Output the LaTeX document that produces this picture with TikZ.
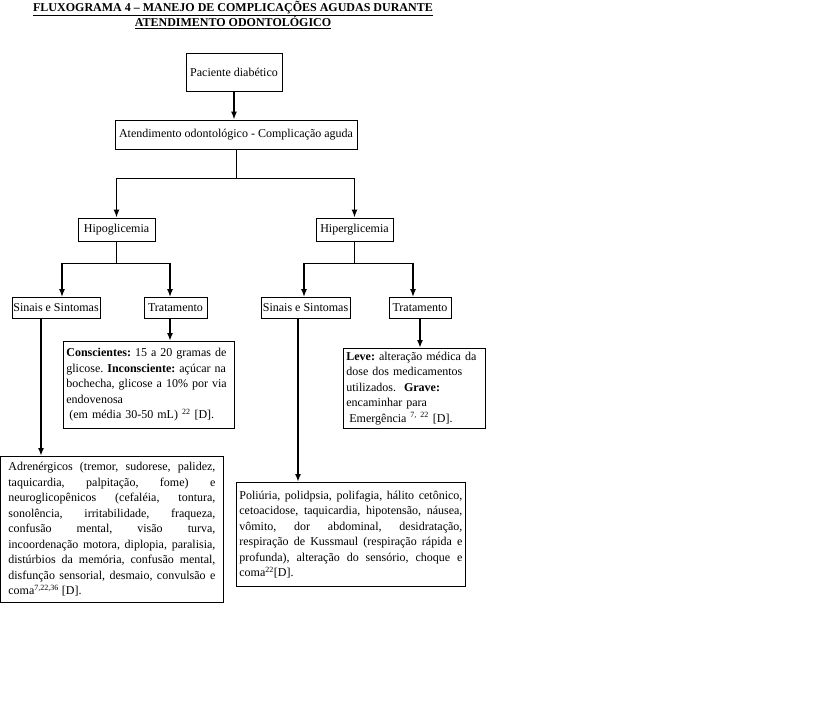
\documentclass[tikz,border=0pt]{standalone}
\usepackage{fontspec}
\setmainfont{Liberation Serif}
\usetikzlibrary{positioning,arrows.meta}
\frenchspacing

\begin{document}
\begin{tikzpicture}[x=1pt,y=-1pt,>={Latex[length=8pt,width=6pt]},
 box/.style={draw,line width=0.8pt,inner sep=1pt,align=center,font=\fontsize{12}{14}\selectfont},
 txt/.style={draw,line width=0.8pt,anchor=north west,inner xsep=3pt,inner ysep=2pt,align=left,font=\fontsize{12}{15.5}\selectfont},
 jtxt/.style={txt,align=justify},
 arr/.style={->,line width=1.8pt},
 stem/.style={line width=0.8pt}]
\useasboundingbox (0,0) rectangle (819,714);
\node[font=\bfseries\fontsize{12}{15}\selectfont,align=center] (title) at (233,15)
 {\underline{FLUXOGRAMA 4 – MANEJO DE COMPLICAÇÕES AGUDAS DURANTE}\\\underline{ATENDIMENTO ODONTOLÓGICO}};
\node[box,minimum width=96pt,minimum height=38pt] (pac) at (234,72) {Paciente diabético};
\node[box,minimum width=242pt,minimum height=29pt] (atend) at (236,134.5) {Atendimento odontológico - Complicação aguda};
\node[box,minimum width=77pt,minimum height=23pt] (hipo) at (116.5,229.5) {Hipoglicemia};
\node[box,minimum width=77pt,minimum height=23pt] (hiper) at (354.5,229.5) {Hiperglicemia};
\node[box,minimum width=88pt,minimum height=21pt] (sinL) at (56,308) {Sinais e Sintomas};
\node[box,minimum width=63pt,minimum height=21pt] (tratL) at (175.5,308) {Tratamento};
\node[box,minimum width=89pt,minimum height=21pt] (sinR) at (305.5,308) {Sinais e Sintomas};
\node[box,minimum width=62pt,minimum height=21pt] (tratR) at (420,308) {Tratamento};
\node[txt,text width=165pt,minimum height=87pt] (condL) at (63,341)
 {\textbf{Conscientes:} 15 a 20 gramas de\\ glicose. \textbf{Inconsciente:} açúcar na\\ bochecha, glicose a 10\% por via\\ endovenosa\\ \hspace{3pt}(em média 30-50 mL) \textsuperscript{22} [D].};
\node[txt,text width=136pt,minimum height=80pt] (condR) at (343,348)
 {\textbf{Leve:} alteração médica da\\ dose dos medicamentos\\ utilizados. \ \textbf{Grave:}\\ encaminhar para\\ \hspace{3pt}Emergência \textsuperscript{7, 22} [D].};
\node[jtxt,inner xsep=8pt,text width=207pt,minimum height=146pt] (sintL) at (0,456)
 {Adrenérgicos (tremor, sudorese, palidez,\linebreak taquicardia, palpitação, fome) e\linebreak neuroglicopênicos (cefaléia, tontura,\linebreak sonolência, irritabilidade, fraqueza,\linebreak confusão mental, visão turva,\linebreak incoordenação motora, diplopia, paralisia,\linebreak distúrbios da memória, confusão mental,\linebreak disfunção sensorial, desmaio, convulsão e\linebreak coma\textsuperscript{7,22,36} [D].};
\node[jtxt,text width=223pt,minimum height=104pt] (sintR) at (236,482)
 {Poliúria, polidpsia, polifagia, hálito cetônico,\linebreak cetoacidose, taquicardia, hipotensão, náusea,\linebreak vômito, dor abdominal, desidratação,\linebreak respiração de Kussmaul (respiração rápida e\linebreak profunda), alteração do sensório, choque e\linebreak coma\textsuperscript{22}[D].};
\coordinate (f1) at (236,178);
\coordinate (aL) at (62,263);
\coordinate (bL) at (170,263);
\coordinate (cL) at (41,318);
\coordinate (aR) at (304,263);
\coordinate (bR) at (413,263);
\coordinate (cR) at (298,318);
\draw[arr] (pac) -- (pac |- atend.north);
\draw[stem] (atend) -- (f1);
\draw[stem] (hipo |- f1) -- (hiper |- f1);
\draw[arr] (hipo |- f1) -- (hipo);
\draw[arr] (hiper |- f1) -- (hiper);
\draw[stem] (hipo) -- (hipo |- aL);
\draw[stem] (hiper) -- (hiper |- aR);
\draw[stem] (aL) -- (bL);
\draw[stem] (aR) -- (bR);
\draw[arr] (aL) -- (aL |- sinL.north);
\draw[arr] (bL) -- (bL |- tratL.north);
\draw[arr] (aR) -- (aR |- sinR.north);
\draw[arr] (bR) -- (bR |- tratR.north);
\draw[arr] (tratL.south -| bL) -- (bL |- condL.north);
\draw[arr] (tratR) -- (tratR |- condR.north);
\draw[arr] (cL) -- (cL |- sintL.north);
\draw[arr] (cR) -- (cR |- sintR.north);
\end{tikzpicture}
\end{document}
